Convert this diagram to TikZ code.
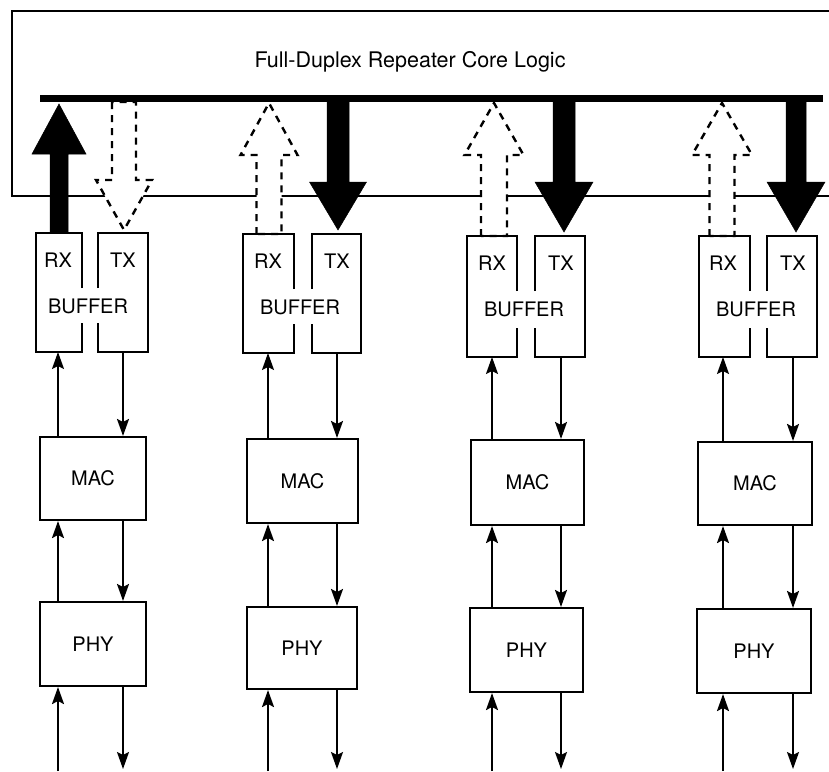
\documentclass[tikz,border=0pt]{standalone}
\usepackage{fontspec}
\setmainfont{TeX Gyre Heros}
\usetikzlibrary{arrows.meta}
\begin{document}
\begin{tikzpicture}[x=1pt,y=-1pt,
  lbl/.style={font=\fontsize{20}{22}\selectfont, inner sep=0pt},
  blk/.style={draw, line width=2.1pt, inner sep=0pt, font=\fontsize{20}{22}\selectfont},
  sig/.style={line width=1.8pt, -{Stealth[length=17pt,width=12pt,inset=3pt]}},
  boxline/.style={line width=2.1pt},
  dasharrow/.style={draw, fill=white, line width=2.4pt, dash pattern=on 7pt off 6pt},
  solidarrow/.style={fill=black, draw=black, line width=0.5pt},
  busline/.style={line width=7pt}]
\useasboundingbox (0,0) rectangle (829,771);
% core logic box (open to the right edge)
\coordinate (coreTR) at (829,11);
\coordinate (coreTL) at (12,11);
\coordinate (coreBL) at (12,196);
\coordinate (coreBR) at (829,196);
\draw[boxline] (coreTR) -- (coreTL) -- (coreBL) -- (coreBR);
\node[font=\fontsize{21.5}{24}\selectfont, inner sep=0pt, anchor=base] (title) at (410,67) {Full-Duplex Repeater Core Logic};
% big solid arrows
\foreach \cx/\sw/\hw/\by/\ty/\b in {59/9/27/154/104/233, 338/11/28.5/182/230/101, 564/11/29/182/232/101, 796/10/29/182/232/101}
  \path[solidarrow] (\cx-\sw,\b) -- (\cx-\sw,\by) -- (\cx-\hw,\by) -- (\cx,\ty) -- (\cx+\hw,\by) -- (\cx+\sw,\by) -- (\cx+\sw,\b) -- cycle;
% big dashed arrows
\foreach \cx/\sw/\hw/\by/\ty/\b in {124/12/28/180/230/102, 269/12.5/28.5/155/103/234, 494/13/29.5/155/103/236, 722/12.5/30/155/103/236}
  \path[dasharrow] (\cx-\sw,\b) -- (\cx-\sw,\by) -- (\cx-\hw,\by) -- (\cx,\ty) -- (\cx+\hw,\by) -- (\cx+\sw,\by) -- (\cx+\sw,\b) -- cycle;
% bus
\coordinate (busL) at (40,98);
\coordinate (busR) at (823,98);
\draw[busline] (busL) -- (busR);
% columns
\foreach \c/\bl/\br/\sl/\sr/\bt/\bb/\rx/\tx/\bx/\ml/\mr/\mt/\mb/\pl/\pr/\pt/\pb in {
1/36/148/82/98/233/352/58/123/88/40/146/437/520/40/146/602/686,
2/243/361/294/312/234/353/268/337/300/247/358/439/523/247/357/607/689,
3/467/585/517/535/236/357/492/561/524/471/584/440/525/470/583/608/692,
4/699/817/750/767/236/357/723/793/756/698/812/442/525/697/811/609/693}{
  \draw[boxline] (\sl,\bt+55) -- (\sl,\bt) -- (\bl,\bt) -- (\bl,\bb) -- (\sl,\bb) -- (\sl,\bb-29);
  \draw[boxline] (\sr,\bt+55) -- (\sr,\bt) -- (\br,\bt) -- (\br,\bb) -- (\sr,\bb) -- (\sr,\bb-29);
  \node[lbl, anchor=base] (rx\c) at (\rx,\bt+34) {RX};
  \node[lbl, anchor=base] (tx\c) at (\tx,\bt+34) {TX};
  \node[lbl, anchor=base] (buf\c) at (\bx,\bt+80) {BUFFER};
  \coordinate (rxb\c) at (\rx,\bb);
  \coordinate (txb\c) at (\tx,\bb);
  \node[blk, minimum width={(\mr-\ml)*1pt}, minimum height={(\mb-\mt)*1pt}] (mac\c) at ({(\ml+\mr)/2},{(\mt+\mb)/2}) {MAC};
  \node[blk, minimum width={(\pr-\pl)*1pt}, minimum height={(\pb-\pt)*1pt}] (phy\c) at ({(\pl+\pr)/2},{(\pt+\pb)/2}) {PHY};
  \coordinate (in\c) at (\rx,771);
  \coordinate (out\c) at (\tx,769);
  \draw[sig] (mac\c.north -| rxb\c) -- (rxb\c);
  \draw[sig] (txb\c) -- (mac\c.north -| txb\c);
  \draw[sig] (phy\c.north -| rxb\c) -- (mac\c.south -| rxb\c);
  \draw[sig] (mac\c.south -| txb\c) -- (phy\c.north -| txb\c);
  \draw[sig] (in\c) -- (phy\c.south -| rxb\c);
  \draw[sig] (phy\c.south -| txb\c) -- (out\c);
}
\end{tikzpicture}
\end{document}
